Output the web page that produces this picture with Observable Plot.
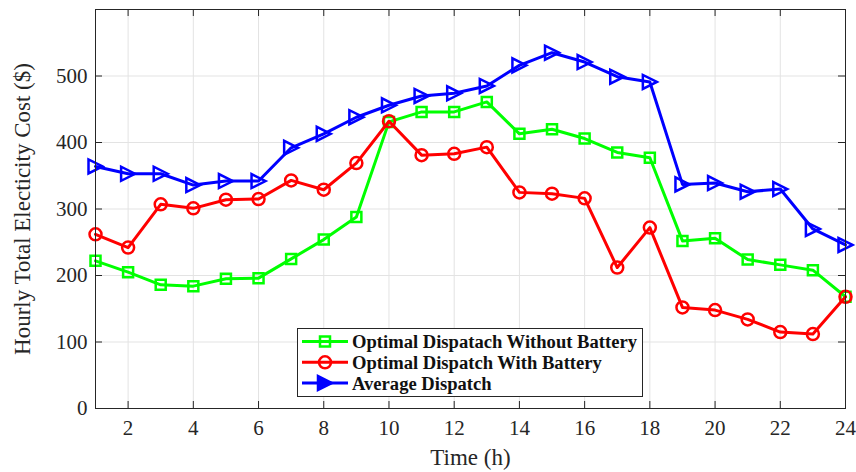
<!DOCTYPE html>
<html>
<head>
<meta charset="utf-8">
<script src="https://cdn.jsdelivr.net/npm/d3@7"></script>
<script src="https://cdn.jsdelivr.net/npm/@observablehq/plot@0.6"></script>
<style>
  html, body { margin: 0; padding: 0; background: #fff; }
  #wrap { position: relative; width: 856px; height: 472px; }
  #legend { position: absolute; left: 297px; top: 328px; }
</style>
</head>
<body>
<div id="wrap"></div>
<script>
const hours = d3.range(1, 25);
const withoutBattery = [222, 205, 186, 184, 195, 196, 225, 254, 288, 431, 446, 446, 461, 413, 420, 406, 385, 377, 252, 256, 224, 216, 208, 168];
const withBattery = [262, 242, 307, 301, 314, 315, 343, 329, 369, 432, 381, 383, 393, 325, 323, 316, 212, 272, 152, 148, 134, 115, 112, 168];
const averageDispatch = [364, 353, 353, 336, 342, 342, 392, 413, 438, 456, 470, 474, 485, 516, 535, 521, 499, 491, 337, 339, 326, 330, 270, 246];
const seriesNames = ["Optimal Dispatach Without Battery", "Optimal Dispatch With Battery", "Average Dispatch"];
const seriesColors = ["#00ff00", "#ff0000", "#0000ff"];
const xTicks = [2, 4, 6, 8, 10, 12, 14, 16, 18, 20, 22, 24];
const yTicks = [0, 100, 200, 300, 400, 500];
const xLabel = "Time (h)";
const yLabel = "Hourly Total Electicity Cost ($)";

const squareSym = {draw(ctx, size) { const r = Math.sqrt(size / Math.PI); ctx.moveTo(-r, -r); ctx.lineTo(r, -r); ctx.lineTo(r, r); ctx.lineTo(-r, r); ctx.closePath(); }};
const triRightSym = {draw(ctx, size) { const r = Math.sqrt(size / Math.PI); ctx.moveTo(r, 0); ctx.lineTo(-r, -r); ctx.lineTo(-r, r); ctx.closePath(); }};
const symbols = [squareSym, "circle", triRightSym];
const radii = [5, 6, 7];

const seriesValues = [withoutBattery, withBattery, averageDispatch];
const data = seriesValues.flatMap((vals, s) => vals.map((v, i) => ({hour: hours[i], value: v, series: s})));

const W = 856, H = 472;
const mL = 95, mR = 11, mT = 9, mB = 64;
const yMax = 600, xMin = 1, xMax = 24;
const tickPx = 7;
const yTickLen = yMax * tickPx / (H - mT - mB);
const xTickLen = (xMax - xMin) * tickPx / (W - mL - mR);
const axisColor = "#262626";

const marks = [
  Plot.gridX(xTicks, {stroke: "#e3e3e3", strokeOpacity: 1}),
  Plot.gridY(yTicks, {stroke: "#e3e3e3", strokeOpacity: 1}),
];
seriesValues.forEach((vals, s) => {
  const d = data.filter(r => r.series === s);
  marks.push(Plot.line(d, {x: "hour", y: "value", stroke: seriesColors[s], strokeWidth: 3}));
  marks.push(Plot.dot(d, {x: "hour", y: "value", stroke: seriesColors[s], fill: "none", strokeWidth: 2.5, symbol: symbols[s], r: radii[s]}));
});
marks.push(
  Plot.frame({stroke: axisColor, strokeWidth: 1}),
  Plot.ruleX(xTicks, {x: d => d, y1: 0, y2: yTickLen, stroke: axisColor}),
  Plot.ruleX(xTicks, {x: d => d, y1: yMax - yTickLen, y2: yMax, stroke: axisColor}),
  Plot.ruleY(yTicks, {y: d => d, x1: xMin, x2: xMin + xTickLen, stroke: axisColor}),
  Plot.ruleY(yTicks, {y: d => d, x1: xMax - xTickLen, x2: xMax, stroke: axisColor}),
  Plot.axisX(xTicks, {tickSize: 0, tickPadding: 12, fontSize: 21, fill: axisColor, label: null}),
  Plot.axisY(yTicks, {tickSize: 0, tickPadding: 8, fontSize: 21, fill: axisColor, label: null}),
  Plot.text([xLabel], {frameAnchor: "bottom", dy: 56, fontSize: 23, fill: axisColor, textAnchor: "middle"}),
  Plot.text([yLabel], {frameAnchor: "left", dx: -73, rotate: -90, fontSize: 23, fill: axisColor, textAnchor: "middle"})
);

const chart = Plot.plot({
  width: W, height: H,
  marginLeft: mL, marginRight: mR, marginTop: mT, marginBottom: mB,
  style: {fontFamily: "'Liberation Serif', 'Times New Roman', serif", background: "#fff", overflow: "visible"},
  x: {domain: [xMin, xMax]},
  y: {domain: [0, yMax]},
  marks
});
document.getElementById("wrap").append(chart);

// Legend
const lg = d3.select("#wrap").append("svg").attr("id", "legend")
  .attr("width", 346).attr("height", 69)
  .style("font-family", "'Liberation Serif', 'Times New Roman', serif");
lg.append("rect").attr("x", 0.5).attr("y", 0.5).attr("width", 345).attr("height", 68)
  .attr("fill", "#fff").attr("stroke", axisColor).attr("stroke-width", 1);
seriesNames.forEach((name, i) => {
  const cy = 13.5 + i * 20.8;
  const g = lg.append("g");
  g.append("line").attr("x1", 5).attr("x2", 51).attr("y1", cy).attr("y2", cy)
    .attr("stroke", seriesColors[i]).attr("stroke-width", 3);
  const r = radii[i];
  const sym = typeof symbols[i] === "string" ? d3.symbolCircle : symbols[i];
  g.append("path").attr("d", d3.symbol(sym, Math.PI * r * r)())
    .attr("transform", `translate(28,${cy})`)
    .attr("fill", i === 2 ? seriesColors[i] : "none").attr("stroke", seriesColors[i]).attr("stroke-width", 2.5);
  g.append("text").attr("x", 55).attr("y", cy).attr("dy", "0.35em")
    .attr("font-size", 18.6).attr("font-weight", "bold").attr("fill", "#111")
    .text(name);
});
</script>
</body>
</html>
